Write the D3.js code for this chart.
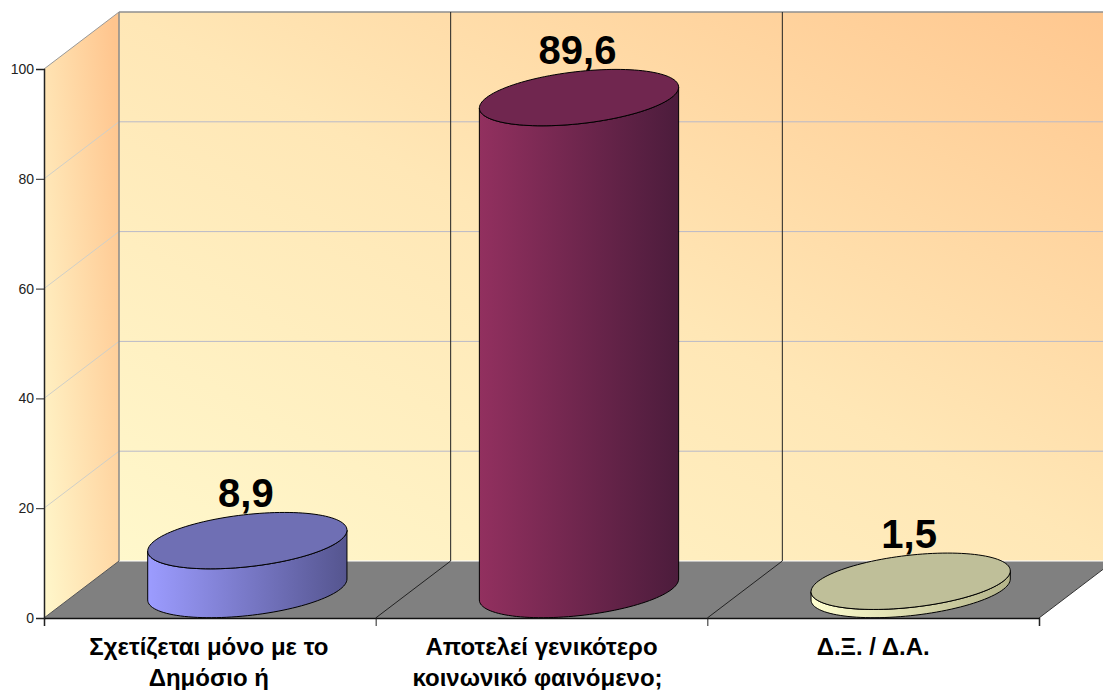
<!DOCTYPE html>
<html><head><meta charset="utf-8">
<script src="https://cdn.jsdelivr.net/npm/d3@7"></script>
<style>html,body{margin:0;padding:0;background:#fff;overflow:hidden}svg{display:block}text{font-family:"Liberation Sans",Arial,sans-serif}</style>
</head><body><svg id="c" width="1103" height="690"></svg>
<script>
const categories = [["Σχετίζεται μόνο με το","Δημόσιο ή"],["Αποτελεί γενικότερο","κοινωνικό φαινόμενο;"],["Δ.Ξ. / Δ.Α."]];
const values = [8.9,89.6,1.5];
const valueLabels = ["8,9","89,6","1,5"];
const yTicks = [0,20,40,60,80,100];
const sideLight = ["#9c9cff","#92305f","#ffffd0"];
const sideDark = ["#55558f","#4c1c3c","#b4b48a"];
const topColors = ["#6f6fb4","#70264f","#bfbf99"];

const svg = d3.select("#c");
const left=44,right=1039,y0=618,y100=69,dx=75,dy=-57;
const y = d3.scaleLinear().domain([0,100]).range([y0,y100]);
const x = d3.scaleBand().domain(d3.range(categories.length)).range([left,right]);
const defs = svg.append("defs");
function grad(id,x1,y1,x2,y2,stops,units){
  const g=defs.append("linearGradient").attr("id",id).attr("x1",x1).attr("y1",y1).attr("x2",x2).attr("y2",y2);
  if(units) g.attr("gradientUnits",units);
  stops.forEach(s=>g.append("stop").attr("offset",s[0]).attr("stop-color",s[1]));
}
grad("back",118,561,583,-281,[[0,"#fff8cc"],[0.5,"#ffe7b6"],[1,"#ffc78f"]],"userSpaceOnUse");
grad("side",44,618,166,607,[[0,"#fff8cc"],[1,"#ffc58e"]],"userSpaceOnUse");
values.forEach((v,i)=>grad("bar"+i,0,0,1,0,[[0,sideLight[i]],[1,sideDark[i]]]));

const line = d3.line();
const poly=(pts,fill,stroke)=>svg.append("path").attr("d",line(pts)+"Z").attr("fill",fill).attr("stroke",stroke||"none");
// walls and floor
poly([[left,y0],[left+dx,y0+dy],[left+dx,y100+dy],[left,y100]],"url(#side)");
poly([[left+dx,y0+dy],[1113,y0+dy],[1113,y100+dy],[left+dx,y100+dy]],"url(#back)");
poly([[left,y0],[right,y0],[right+dx,y0+dy],[left+dx,y0+dy]],"#808080");
// gridlines
yTicks.forEach(t=>{
  const col = t===100?"#8f8f8f":(t===0?"#ffffff":"#b9b9c8");
  if(t>0) svg.append("path").attr("d",line([[left,y(t)],[left+dx,y(t)+dy]])).attr("stroke",t===100?"#999":"#cfcfc8").attr("fill","none");
  svg.append("path").attr("d",line([[left+dx,y(t)+dy],[1103,y(t)+dy]])).attr("stroke",col).attr("stroke-width",t===100?1.5:1).attr("fill","none");
});
svg.append("line").attr("x1",left+dx).attr("x2",left+dx).attr("y1",y100+dy).attr("y2",y0+dy).attr("stroke","#8a8a8a").attr("stroke-width",1.5);
// separators
d3.range(1,categories.length).forEach(i=>{
  const bx=x(i);
  svg.append("path").attr("fill","none").attr("stroke","#222")
    .attr("d",line([[bx,y0],[bx+dx,y0+dy],[bx+dx,y100+dy]]));
});
svg.append("path").attr("fill","none").attr("stroke","#333").attr("d",line([[right,y0],[right+dx,y0+dy]]));
svg.append("path").attr("fill","none").attr("stroke","#555").attr("d",line([[left,y0],[left+dx,y0+dy]]));

// cylinders: a circle on the floor, seen in oblique projection
const ux=92.5, vx=37, vy=-28.2;
const angles=d3.range(0,361,3).map(a=>a*Math.PI/180);
const ell=(cx,cy,t)=>[cx+ux*Math.cos(t)+vx*Math.sin(t),cy+vy*Math.sin(t)];
values.forEach((v,i)=>{
  const cx=x(i)+x.bandwidth()/2+dx/2, base=(y0+y0+dy)/2, h=y(0)-y(v), cyT=base-h;
  const t0=Math.atan2(vx,ux);            // right-most point
  const lower=d3.range(0,181,3).map(a=>t0-a*Math.PI/180); // from right, through the front, to left
  const pts=[...lower.map(t=>ell(cx,base,t)),...lower.slice().reverse().map(t=>ell(cx,cyT,t))];
  svg.append("path").attr("d",line(pts)+"Z").attr("fill",`url(#bar${i})`).attr("stroke","#000");
  svg.append("path").attr("d",line(angles.map(t=>ell(cx,cyT,t)))+"Z").attr("fill",topColors[i]).attr("stroke","#000");
  svg.append("text").attr("x",cx-1.5).attr("y",cyT+vy-5).attr("text-anchor","middle")
    .attr("font-size",40).attr("font-weight","bold").attr("fill","#000").text(valueLabels[i]);
});

// axes
const yAxis=svg.append("g").attr("transform",`translate(${left},0)`)
  .call(d3.axisLeft(y).tickValues(yTicks).tickSize(8).tickPadding(2).tickFormat(d3.format("d")));
yAxis.select(".domain").attr("stroke","#222").attr("stroke-width",1.5);
yAxis.selectAll("line").attr("stroke","#222");
yAxis.selectAll("text").attr("font-size",14).attr("fill","#222").style("font-family",'"Liberation Sans",Arial,sans-serif');
const edge=d3.scaleLinear().domain([0,3]).range([left,right]);
const xAxis=svg.append("g").attr("transform",`translate(0,${y0})`)
  .call(d3.axisBottom(edge).tickValues([0,1,2,3]).tickSize(8).tickFormat(""));
xAxis.select(".domain").attr("stroke","#111").attr("stroke-width",1.5);
xAxis.selectAll("line").attr("stroke","#222");
// category labels
categories.forEach((c,i)=>c.forEach((s,j)=>{
  svg.append("text").attr("x",x(i)+x.bandwidth()/2-(i===0?1:0)-(j===1&&i===1?4:0)).attr("y",655+j*31).attr("text-anchor","middle")
    .attr("font-size",24).attr("font-weight","bold").attr("fill","#000").text(s);
}));
</script></body></html>
